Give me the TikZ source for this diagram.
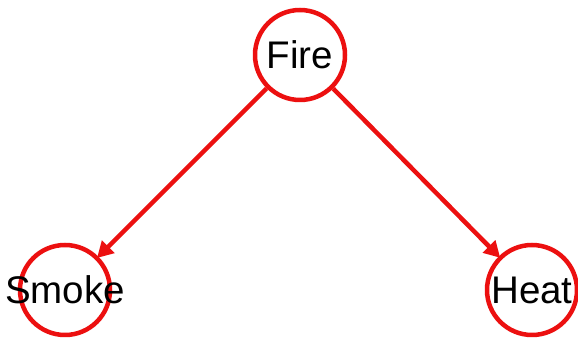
\documentclass[tikz,border=0pt]{standalone}
\usepackage{fontspec}
\setmainfont{Liberation Sans}
\usetikzlibrary{arrows.meta}
\definecolor{netred}{RGB}{236,16,16}
\tikzset{
  varnode/.style={circle, draw=netred, line width=4.5pt, minimum size=90pt, inner sep=0pt, font=\fontsize{38.5}{40}\selectfont, text=black},
  edge/.style={draw=netred, line width=4.5pt, -{Triangle[length=16pt,width=17pt]}, shorten >=-2pt}
}
\begin{document}
\begin{tikzpicture}[x=1pt,y=1pt]
  \useasboundingbox (0,0) rectangle (578,339);
  \clip (0,0) rectangle (578,339);
  \fill[white] (0,0) rectangle (578,339);
  \node[varnode] (fire) at (300,284) {\makebox[0pt]{Fire}};
  \node[varnode] (smoke) at (65,49) {\makebox[0pt]{Smoke}};
  \node[varnode] (heat) at (532,49) {\makebox[0pt]{Heat}};
  \draw[edge] (fire) -- (smoke);
  \draw[edge] (fire) -- (heat);
\end{tikzpicture}
\end{document}
